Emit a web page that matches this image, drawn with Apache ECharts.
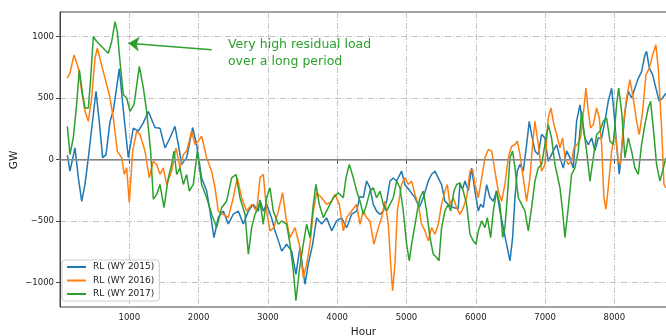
<!DOCTYPE html>
<html>
<head>
<meta charset="utf-8">
<script src="https://cdn.jsdelivr.net/npm/echarts@6/dist/echarts.min.js"></script>
<style>
  html, body { margin: 0; padding: 0; background: #fff; }
  #chart { width: 666px; height: 336px; }
</style>
</head>
<body>
<div id="chart"></div>
<script>
// residual load per year, [hour, GW]
const rl2015 = [
  [106,35],[144,-95],[216,95],[265,-150],[313,-340],[361,-200],[409,15],[457,250],[520,555],[568,300],
  [616,15],[664,40],[722,310],[770,400],[856,740],[914,400],[986,15],[1058,255],[1130,230],[1203,300],
  [1275,390],[1371,260],[1443,255],[1515,95],[1587,175],[1659,270],[1708,120],[1756,-40],[1828,15],[1914,260],
  [1972,120],[2044,-150],[2116,-255],[2165,-420],[2222,-635],[2285,-470],[2357,-420],[2429,-525],[2501,-445],[2573,-420],
  [2646,-525],[2718,-420],[2790,-365],[2862,-420],[2886,-330],[2934,-420],[2982,-365],[3054,-475],[3102,-580],[3151,-660],
  [3199,-745],[3271,-690],[3343,-745],[3405,-935],[3463,-715],[3535,-1015],[3583,-850],[3646,-690],[3704,-475],[3776,-525],
  [3848,-475],[3920,-580],[3992,-500],[4064,-475],[4137,-555],[4209,-445],[4281,-420],[4329,-300],[4377,-310],[4425,-175],
  [4473,-230],[4521,-365],[4569,-420],[4618,-445],[4666,-420],[4714,-340],[4762,-175],[4810,-150],[4858,-175],[4930,-95],
  [4978,-205],[5050,-255],[5123,-310],[5185,-390],[5243,-310],[5315,-175],[5363,-120],[5411,-95],[5459,-150],[5507,-205],
  [5555,-340],[5603,-365],[5675,-390],[5747,-400],[5772,-200],[5810,-240],[5844,-175],[5892,-255],[5940,-70],[5988,-255],
  [6037,-420],[6070,-365],[6109,-390],[6157,-205],[6205,-310],[6253,-340],[6301,-255],[6349,-420],[6397,-555],[6445,-690],
  [6494,-825],[6532,-635],[6566,-310],[6599,-95],[6638,-40],[6686,-95],[6734,120],[6772,310],[6806,205],[6854,70],
  [6902,40],[6950,205],[6998,175],[7046,-15],[7119,70],[7167,120],[7215,15],[7263,-70],[7311,70],[7359,15],
  [7407,-70],[7455,310],[7504,445],[7542,285],[7576,175],[7624,120],[7672,175],[7720,70],[7768,175],[7816,175],
  [7864,310],[7912,475],[7961,580],[7994,390],[8033,120],[8071,-120],[8105,70],[8153,390],[8201,555],[8249,500],
  [8297,580],[8345,660],[8393,715],[8441,850],[8465,880],[8504,745],[8552,690],[8600,580],[8648,475],[8696,500],
  [8745,540]
];

const rl2016 = [
  [106,662],[144,703],[202,851],[265,743],[313,554],[361,392],[409,311],[457,500],[505,824],[539,905],
  [587,797],[649,662],[712,527],[770,338],[827,68],[890,14],[928,-122],[962,-68],[1000,-350],[1049,68],
  [1106,230],[1154,203],[1227,68],[1289,-150],[1347,-14],[1395,-41],[1443,-120],[1491,-68],[1539,-205],[1611,-95],
  [1674,95],[1732,-68],[1780,41],[1828,68],[1900,230],[1948,122],[1996,149],[2044,190],[2116,14],[2189,-95],
  [2237,-230],[2285,-420],[2357,-446],[2429,-473],[2501,-311],[2559,-149],[2621,-311],[2694,-419],[2766,-365],[2838,-419],
  [2886,-149],[2934,-120],[2982,-419],[3030,-580],[3088,-554],[3151,-419],[3213,-270],[3261,-473],[3319,-635],[3391,-554],
  [3453,-689],[3511,-960],[3559,-851],[3608,-689],[3656,-419],[3704,-270],[3776,-311],[3848,-365],[3920,-338],[3968,-284],
  [4031,-365],[4089,-581],[4137,-473],[4209,-419],[4281,-365],[4329,-527],[4377,-419],[4425,-473],[4473,-500],[4531,-690],
  [4594,-554],[4642,-473],[4690,-338],[4738,-527],[4772,-850],[4800,-1070],[4834,-850],[4868,-419],[4930,-203],[4978,-150],
  [5026,-203],[5075,-176],[5123,-284],[5171,-365],[5219,-527],[5267,-581],[5315,-662],[5363,-554],[5411,-608],[5459,-527],
  [5507,-365],[5555,-257],[5589,-203],[5627,-365],[5675,-311],[5724,-392],[5772,-446],[5820,-392],[5868,-311],[5916,-95],
  [5955,-81],[5988,-203],[6037,-311],[6085,-149],[6133,14],[6181,81],[6229,68],[6277,-95],[6325,-257],[6373,-340],
  [6421,-203],[6469,14],[6518,108],[6566,122],[6599,150],[6638,41],[6686,-149],[6734,-340],[6782,-149],[6820,122],
  [6854,311],[6902,122],[6950,-95],[6998,-41],[7046,338],[7085,419],[7128,284],[7167,203],[7215,95],[7253,176],
  [7287,14],[7335,-41],[7383,-14],[7417,95],[7465,122],[7513,176],[7561,419],[7590,581],[7624,392],[7657,257],
  [7696,284],[7744,419],[7783,338],[7816,122],[7850,-311],[7879,-405],[7912,-230],[7961,68],[8009,230],[8057,-14],
  [8090,-41],[8129,284],[8177,500],[8225,649],[8273,500],[8321,311],[8360,203],[8408,392],[8456,689],[8504,743],
  [8552,851],[8600,933],[8634,743],[8682,257],[8716,-203],[8745,-230]
];

const rl2017 = [
  [106,270],[144,41],[192,176],[240,446],[279,730],[327,527],[361,419],[409,419],[443,662],[481,1000],
  [529,960],[577,933],[625,905],[697,865],[746,960],[794,1122],[827,1041],[866,797],[914,527],[962,500],
  [1010,392],[1068,446],[1145,757],[1203,581],[1251,392],[1308,68],[1347,-324],[1395,-284],[1443,-203],[1501,-392],
  [1563,-149],[1611,-41],[1645,68],[1684,-122],[1732,-68],[1780,-203],[1828,-122],[1866,-257],[1924,-203],[1982,68],
  [2044,-203],[2116,-311],[2189,-446],[2261,-554],[2333,-392],[2405,-338],[2477,-149],[2540,-122],[2597,-311],[2670,-446],
  [2718,-770],[2766,-554],[2814,-446],[2862,-392],[2886,-338],[2934,-527],[2982,-311],[3030,-230],[3078,-419],[3151,-527],
  [3199,-500],[3271,-527],[3319,-689],[3367,-905],[3405,-1149],[3453,-905],[3511,-689],[3559,-527],[3608,-635],[3656,-365],
  [3694,-203],[3742,-365],[3800,-473],[3872,-392],[3944,-311],[4016,-270],[4089,-311],[4127,-149],[4175,-41],[4233,-149],
  [4281,-257],[4329,-338],[4377,-446],[4425,-365],[4473,-257],[4521,-230],[4569,-311],[4618,-257],[4666,-365],[4714,-419],
  [4762,-365],[4810,-311],[4858,-176],[4906,-230],[4954,-419],[5002,-689],[5041,-825],[5075,-689],[5108,-581],[5156,-419],
  [5195,-311],[5243,-257],[5291,-419],[5339,-635],[5387,-770],[5435,-797],[5469,-824],[5507,-554],[5555,-419],[5603,-365],
  [5637,-419],[5685,-257],[5724,-203],[5772,-190],[5820,-257],[5868,-365],[5916,-608],[5964,-662],[6003,-689],[6037,-581],
  [6085,-500],[6133,-554],[6167,-473],[6215,-635],[6253,-419],[6301,-257],[6349,-365],[6388,-635],[6421,-554],[6455,-311],
  [6494,14],[6532,68],[6566,-68],[6614,-311],[6662,-365],[6710,-419],[6758,-581],[6806,-392],[6854,-176],[6902,-68],
  [6950,-41],[6998,122],[7046,284],[7094,176],[7143,-41],[7215,-230],[7253,-419],[7287,-635],[7335,-392],[7383,-122],
  [7431,-68],[7479,68],[7528,392],[7561,230],[7600,68],[7648,-176],[7696,14],[7744,203],[7792,230],[7840,311],
  [7888,338],[7937,149],[7985,122],[8033,446],[8062,581],[8105,392],[8153,14],[8201,176],[8249,68],[8297,-68],
  [8345,-122],[8393,122],[8441,284],[8489,419],[8523,473],[8562,257],[8610,-41],[8658,-176],[8696,-95],[8745,14]
];

const yTicks = [-1000, -500, 0, 500, 1000];
const xTicks = [1000, 2000, 3000, 4000, 5000, 6000, 7000, 8000];

// annotation: arrow tail / head and text anchor, in data units
const arrowTail = [2189, 892];
const arrowHead = [986, 946];
const noteAnchor = [2424, 863];
const noteText = "Very high residual load\nover a long period";

const FONT = "DejaVu Sans";
const gridLine = { color: "#c4c4c4", width: 1, type: [6, 2, 1, 2] };

const chart = echarts.init(document.getElementById("chart"));

chart.setOption({
  animation: false,
  backgroundColor: "#fff",
  textStyle: { fontFamily: FONT },
  grid: {
    left: 60, right: -1, top: 12, bottom: 29,
    outerBoundsMode: "none",
    containLabel: false,
    show: true, borderColor: "#444", borderWidth: 1
  },
  // y axis title, drawn by hand since the axis name ignores nameGap here
  graphic: [{
    type: "text",
    x: 14, y: 160,
    rotation: Math.PI / 2,
    silent: true,
    style: {
      text: "GW",
      fill: "#222",
      font: "10.5px 'DejaVu Sans'",
      align: "center",
      verticalAlign: "middle"
    }
  }],
  legend: {
    orient: "vertical",
    left: 62, top: 260,
    padding: [2, 5, 2, 5],
    itemGap: 3.5,
    itemWidth: 19, itemHeight: 2,
    icon: "rect",
    backgroundColor: "rgba(255,255,255,0.85)",
    borderColor: "#cccccc", borderWidth: 1, borderRadius: 3,
    textStyle: { fontFamily: FONT, fontSize: 9, color: "#222", lineHeight: 10, padding: [0, 0, 0, 2] }
  },
  xAxis: {
    type: "value",
    min: 0, max: 8760,
    name: "Hour",
    nameLocation: "middle",
    nameGap: 17,
    nameTextStyle: { fontFamily: FONT, fontSize: 10.5, color: "#222" },
    axisLine: { show: true, lineStyle: { color: "#444", width: 1 } },
    axisTick: { show: true, length: 4, customValues: xTicks, lineStyle: { color: "#444" } },
    axisLabel: {
      customValues: xTicks, margin: 6, fontSize: 8.5, color: "#222", fontFamily: FONT,
      formatter: (v) => String(v)
    },
    splitLine: { show: true, lineStyle: gridLine }
  },
  yAxis: {
    type: "value",
    min: -1200, max: 1200,
    axisLine: { show: true, lineStyle: { color: "#444", width: 1 } },
    axisTick: { show: true, length: 4, customValues: yTicks, lineStyle: { color: "#444" } },
    axisLabel: {
      customValues: yTicks, margin: 6, fontSize: 8.5, color: "#222", fontFamily: FONT,
      formatter: (v) => String(v).replace("-", "\u2212")
    },
    splitLine: { show: true, lineStyle: gridLine }
  },
  series: [
    {
      name: "RL (WY 2015)",
      type: "line",
      data: rl2015,
      showSymbol: false,
      color: "#1f77b4",
      lineStyle: { width: 1.5 },
      markLine: {
        silent: true,
        symbol: "none",
        label: { show: false },
        lineStyle: { color: "#999", width: 1.5, type: "solid" },
        data: [{ yAxis: 0 }]
      }
    },
    {
      name: "RL (WY 2016)",
      type: "line",
      data: rl2016,
      showSymbol: false,
      color: "#ff7f0e",
      lineStyle: { width: 1.5 }
    },
    {
      name: "RL (WY 2017)",
      type: "line",
      data: rl2017,
      showSymbol: false,
      color: "#2ca02c",
      lineStyle: { width: 1.5 },
      markLine: {
        silent: true,
        symbol: ["none", "arrow"],
        symbolSize: 11,
        label: { show: false },
        lineStyle: { color: "#2ca02c", width: 1.5, type: "solid" },
        data: [[{ coord: arrowTail }, { coord: arrowHead }]]
      },
      markPoint: {
        silent: true,
        symbol: "circle",
        symbolSize: 0,
        data: [{ coord: noteAnchor }],
        label: {
          show: true,
          position: "right",
          distance: 0,
          formatter: noteText,
          color: "#2ca02c",
          fontFamily: FONT,
          fontSize: 12.5,
          lineHeight: 17,
          align: "left"
        }
      }
    }
  ]
});
</script>
</body>
</html>
